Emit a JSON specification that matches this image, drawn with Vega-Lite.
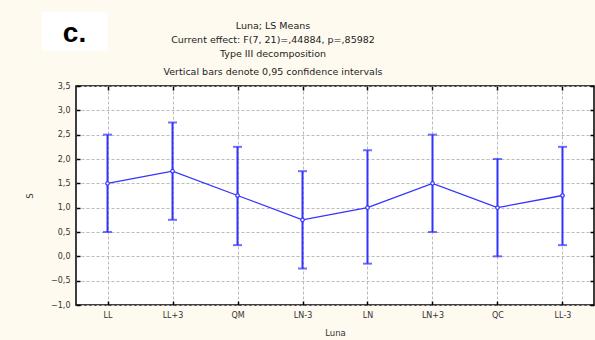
{
  "$schema": "https://vega.github.io/schema/vega-lite/v6.json",
  "autosize": "none",
  "width": 518,
  "height": 219,
  "padding": {"left": 76, "top": 86, "right": 1, "bottom": 35},
  "background": "#fffaf0",
  "title": {
    "text": ["Luna; LS Means", "Current effect: F(7, 21)=,44884, p=,85982", "Type III decomposition"],
    "subtitle": "Vertical bars denote 0,95 confidence intervals",
    "font": "DejaVu Sans",
    "subtitleFont": "DejaVu Sans",
    "fontSize": 9.5,
    "subtitleFontSize": 9.5,
    "fontWeight": "normal",
    "lineHeight": 14,
    "subtitleLineHeight": 14,
    "subtitlePadding": 8,
    "offset": 8,
    "dx": -62,
    "dy": 72,
    "anchor": "middle",
    "color": "#222222",
    "subtitleColor": "#222222"
  },
  "data": {
    "values": [
      {"Luna": "LL", "S": 1.5, "lo": 0.5, "hi": 2.5},
      {"Luna": "LL+3", "S": 1.75, "lo": 0.75, "hi": 2.75},
      {"Luna": "QM", "S": 1.25, "lo": 0.23, "hi": 2.25},
      {"Luna": "LN-3", "S": 0.75, "lo": -0.25, "hi": 1.75},
      {"Luna": "LN", "S": 1.0, "lo": -0.15, "hi": 2.18},
      {"Luna": "LN+3", "S": 1.5, "lo": 0.5, "hi": 2.5},
      {"Luna": "QC", "S": 1.0, "lo": 0.0, "hi": 2.0},
      {"Luna": "LL-3", "S": 1.25, "lo": 0.23, "hi": 2.25}
    ]
  },
  "config": {
    "view": {"stroke": "#000000", "strokeWidth": 1.5, "fill": "#ffffff"},
    "axis": {
      "labelFont": "DejaVu Sans",
      "titleFont": "DejaVu Sans",
      "labelFontSize": 8,
      "titleFontSize": 8.5,
      "labelColor": "#333333",
      "titleColor": "#333333",
      "titleFontWeight": "normal",
      "domain": false,
      "tickColor": "#000000",
      "tickWidth": 1.5,
      "tickSize": -4,
      "gridColor": "#bbbbbb",
      "gridDash": [3, 2],
      "gridWidth": 1
    }
  },
  "resolve": {"axis": {"x": "independent", "y": "independent"}},
  "layer": [
    {
      "mark": {"type": "rule", "color": "#3333ff", "strokeWidth": 2},
      "encoding": {
        "x": {
          "field": "Luna", "type": "nominal", "sort": null,
          "scale": {"type": "point", "padding": 0.485},
          "axis": {"orient": "bottom", "title": "Luna", "labelAngle": 0, "grid": true, "labelPadding": 10, "titlePadding": 9}
        },
        "y": {
          "field": "lo", "type": "quantitative",
          "scale": {"domain": [-1, 3.5], "nice": false, "zero": false},
          "axis": {"orient": "left", "title": "S", "values": [-1, -0.5, 0, 0.5, 1, 1.5, 2, 2.5, 3, 3.5], "labelExpr": "replace(format(datum.value, '.1f'), '.', ',')", "grid": true, "labelPadding": 10, "titlePadding": 16}
        },
        "y2": {"field": "hi"}
      }
    },
    {
      "mark": {"type": "tick", "color": "#3333ff", "thickness": 2, "size": 9, "orient": "horizontal"},
      "encoding": {
        "x": {"field": "Luna", "type": "nominal", "sort": null, "axis": {"orient": "top", "title": null, "labels": false, "grid": false}},
        "y": {"field": "lo", "type": "quantitative", "axis": {"orient": "right", "title": null, "labels": false, "grid": false, "values": [-1, -0.5, 0, 0.5, 1, 1.5, 2, 2.5, 3, 3.5]}}
      }
    },
    {
      "mark": {"type": "tick", "color": "#3333ff", "thickness": 2, "size": 9, "orient": "horizontal"},
      "encoding": {
        "x": {"field": "Luna", "type": "nominal", "sort": null, "axis": null},
        "y": {"field": "hi", "type": "quantitative", "axis": null}
      }
    },
    {
      "mark": {"type": "line", "color": "#3333ff", "strokeWidth": 1.3},
      "encoding": {
        "x": {"field": "Luna", "type": "nominal", "sort": null, "axis": null},
        "y": {"field": "S", "type": "quantitative", "axis": null}
      }
    },
    {
      "mark": {"type": "point", "shape": "circle", "filled": false, "fill": "#ffffff", "fillOpacity": 1, "color": "#3333ff", "strokeWidth": 1.2, "size": 12, "opacity": 1},
      "encoding": {
        "x": {"field": "Luna", "type": "nominal", "sort": null, "axis": null},
        "y": {"field": "S", "type": "quantitative", "axis": null}
      }
    },
    {
      "data": {"values": [{"label": "c."}]},
      "mark": {"type": "rect", "color": "#ffffff", "xOffset": -66, "x2Offset": 0},
      "encoding": {
        "x": {"datum": "LL", "axis": null},
        "x2": {"datum": "LL"},
        "y": {"datum": 5.02, "axis": null},
        "y2": {"datum": 4.225}
      }
    },
    {
      "data": {"values": [{"label": "c."}]},
      "mark": {"type": "text", "font": "Liberation Sans", "fontSize": 28, "fontWeight": "bold", "color": "#000000", "align": "center", "baseline": "alphabetic", "dx": -33},
      "encoding": {
        "x": {"datum": "LL", "axis": null},
        "y": {"datum": 4.41, "axis": null},
        "text": {"field": "label"}
      }
    }
  ]
}
